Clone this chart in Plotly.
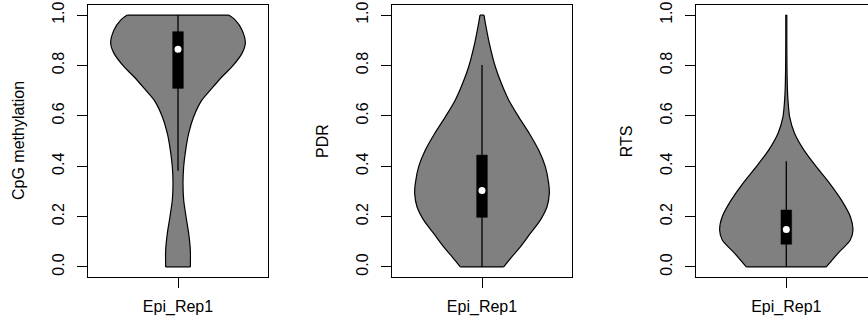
import plotly.graph_objects as go

# ---------------- data ----------------
panel_titles = ["CpG methylation", "PDR", "RTS"]
category = "Epi_Rep1"
ytick_vals = [0.0, 0.2, 0.4, 0.6, 0.8, 1.0]
ytick_text = ["0.0", "0.2", "0.4", "0.6", "0.8", "1.0"]

# violin outlines: y level (top -> bottom) and half-width (density, axis units)
cpg_y = [1.0, 0.980, 0.941, 0.888, 0.848, 0.795, 0.755, 0.702, 0.663, 0.596,
         0.530, 0.464, 0.398, 0.332, 0.266, 0.200, 0.133, 0.067, 0.0]
cpg_halfwidth = [0.304, 0.344, 0.384, 0.404, 0.384, 0.324, 0.264, 0.194, 0.144, 0.094,
                 0.064, 0.046, 0.034, 0.030, 0.034, 0.048, 0.064, 0.074, 0.074]

pdr_y = [1.0, 0.954, 0.888, 0.795, 0.729, 0.663, 0.596, 0.530, 0.464, 0.398,
         0.332, 0.292, 0.239, 0.186, 0.133, 0.080, 0.041, 0.0]
pdr_halfwidth = [0.012, 0.024, 0.044, 0.080, 0.116, 0.160, 0.220, 0.284, 0.340, 0.380,
                 0.400, 0.404, 0.390, 0.350, 0.290, 0.230, 0.180, 0.130]

rts_y = [1.0, 0.900, 0.795, 0.700, 0.663, 0.596, 0.530, 0.464, 0.398, 0.332,
         0.266, 0.200, 0.147, 0.107, 0.054, 0.0]
rts_halfwidth = [0.003, 0.003, 0.004, 0.007, 0.010, 0.020, 0.050, 0.106, 0.180, 0.260,
                 0.330, 0.384, 0.400, 0.384, 0.310, 0.240]

# box statistics: lower whisker, Q1, median, Q3, upper whisker
cpg_stats = [0.382, 0.709, 0.864, 0.934, 1.0]
pdr_stats = [0.0, 0.197, 0.303, 0.444, 0.802]
rts_stats = [0.0, 0.090, 0.149, 0.226, 0.420]

# ---------------- figure ----------------
W, H = 868, 324
FONT = "Liberation Sans, Arial, Helvetica, sans-serif"
plot_top, plot_bottom = 5, 277
panel_left = [88, 392, 696.3]
panel_right = [268, 572, 868]
px_per_unit = 180 / 1.08
box_half = 0.032

violins = [(cpg_y, cpg_halfwidth, cpg_stats),
           (pdr_y, pdr_halfwidth, pdr_stats),
           (rts_y, rts_halfwidth, rts_stats)]

fig = go.Figure()
layout = dict(template="none", width=W, height=H, margin=dict(l=0, r=0, t=0, b=0, pad=0),
              plot_bgcolor="white", paper_bgcolor="white", showlegend=False,
              font=dict(family=FONT, size=16, color="black"))

ydom = [(H - plot_bottom) / H, (H - plot_top) / H]
annotations = []
for i, (ys, hw, st) in enumerate(violins):
    n = "" if i == 0 else str(i + 1)
    xa, ya = "x" + n, "y" + n
    spline = dict(color="black", width=1.2, shape="spline", smoothing=0.8)
    # left edge
    fig.add_trace(go.Scatter(x=[1 - h for h in hw], y=ys, mode="lines",
                             line=spline, xaxis=xa, yaxis=ya, hoverinfo="skip"))
    # right edge, filled to the left edge
    fig.add_trace(go.Scatter(x=[1 + h for h in hw], y=ys, mode="lines",
                             fill="tonextx", fillcolor="#808080",
                             line=spline, xaxis=xa, yaxis=ya, hoverinfo="skip"))
    # flat top and bottom edges
    fig.add_trace(go.Scatter(x=[1 - hw[0], 1 + hw[0], None, 1 - hw[-1], 1 + hw[-1]],
                             y=[ys[0], ys[0], None, ys[-1], ys[-1]], mode="lines",
                             line=dict(color="black", width=1.2),
                             xaxis=xa, yaxis=ya, hoverinfo="skip"))
    # whisker
    fig.add_trace(go.Scatter(x=[1, 1], y=[st[0], st[4]], mode="lines",
                             line=dict(color="black", width=1.3),
                             xaxis=xa, yaxis=ya, hoverinfo="skip"))
    # box
    fig.add_trace(go.Scatter(x=[1 - box_half, 1 + box_half, 1 + box_half, 1 - box_half, 1 - box_half],
                             y=[st[1], st[1], st[3], st[3], st[1]], mode="lines", fill="toself",
                             fillcolor="black", line=dict(color="black", width=0.5),
                             xaxis=xa, yaxis=ya, hoverinfo="skip"))
    # median
    fig.add_trace(go.Scatter(x=[1], y=[st[2]], mode="markers",
                             marker=dict(color="white", size=7, line=dict(width=0)),
                             xaxis=xa, yaxis=ya, hoverinfo="skip"))

    left, right = panel_left[i], panel_right[i]
    xr = [0.46, 0.46 + (right - left) / px_per_unit]
    layout["xaxis" + n] = dict(domain=[left / W, right / W], range=xr, anchor=ya,
                               automargin=False, showgrid=False, zeroline=False,
                               showline=True, linecolor="black", linewidth=1, mirror=True,
                               ticks="outside", ticklen=10, tickwidth=1, tickcolor="black",
                               tickvals=[1], ticktext=[category], ticklabelstandoff=5,
                               tickfont=dict(family=FONT, size=16, color="black"))
    layout["yaxis" + n] = dict(domain=ydom, range=[-0.04, 1.04], anchor=xa,
                               automargin=False, showgrid=False, zeroline=False,
                               showline=True, linecolor="black", linewidth=1,
                               mirror=(i < 2),
                               ticks="outside", ticklen=10, tickwidth=1, tickcolor="black",
                               tickvals=ytick_vals, ticktext=ytick_text, tickangle=-90,
                               ticklabelstandoff=7,
                               tickfont=dict(family=FONT, size=16, color="black"))
    title_x = left - 70
    annotations.append(dict(text=panel_titles[i], x=title_x / W, y=(H - (plot_top + plot_bottom) / 2) / H,
                            xref="paper", yref="paper", showarrow=False, textangle=-90,
                            xanchor="center", yanchor="middle",
                            font=dict(family=FONT, size=16, color="black")))

layout["annotations"] = annotations
fig.update_layout(**layout)
fig.write_html("out.html",
               config={"displayModeBar": False, "staticPlot": True},
               post_script="document.body.style.margin='0';document.body.style.overflow='hidden';")
